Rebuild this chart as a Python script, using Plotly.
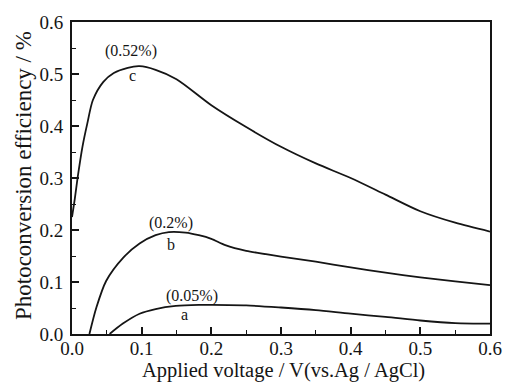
import plotly.graph_objects as go

# Curve c
c_x = [0.0, 0.004, 0.008, 0.015, 0.022, 0.03, 0.045, 0.06, 0.08, 0.097, 0.12, 0.15, 0.2, 0.25, 0.3, 0.35, 0.4, 0.45, 0.5, 0.55, 0.6]
c_y = [0.225, 0.26, 0.30, 0.36, 0.405, 0.45, 0.485, 0.502, 0.512, 0.515, 0.508, 0.49, 0.44, 0.398, 0.36, 0.328, 0.300, 0.268, 0.236, 0.214, 0.197]
# Curve b
b_x = [0.025, 0.035, 0.049, 0.073, 0.097, 0.12, 0.139, 0.163, 0.182, 0.2, 0.22, 0.25, 0.3, 0.35, 0.4, 0.45, 0.5, 0.55, 0.6]
b_y = [0.0, 0.051, 0.102, 0.146, 0.174, 0.19, 0.196, 0.195, 0.19, 0.183, 0.171, 0.160, 0.149, 0.139, 0.128, 0.118, 0.109, 0.101, 0.094]
# Curve a
a_x = [0.054, 0.073, 0.097, 0.12, 0.149, 0.182, 0.2, 0.25, 0.3, 0.35, 0.4, 0.45, 0.5, 0.55, 0.6]
a_y = [0.0, 0.02, 0.039, 0.048, 0.054, 0.056, 0.056, 0.055, 0.051, 0.046, 0.039, 0.033, 0.026, 0.021, 0.02]

tick_vals = [0.0, 0.1, 0.2, 0.3, 0.4, 0.5, 0.6]
tick_text = ["0.0", "0.1", "0.2", "0.3", "0.4", "0.5", "0.6"]
minor_vals = [0.05, 0.15, 0.25, 0.35, 0.45, 0.55]

label_text = ["(0.52%)", "c", "(0.2%)", "b", "(0.05%)", "a"]
label_x = [0.084, 0.087, 0.142, 0.142, 0.172, 0.161]
label_y = [0.544, 0.497, 0.213, 0.173, 0.073, 0.038]

x_title = "Applied voltage / V(vs.Ag / AgCl)"
y_title = "Photoconversion efficiency / %"

FONT = "Liberation Serif, Times New Roman, serif"
INK = "#151515"

fig = go.Figure()
for xs, ys in [(c_x, c_y), (b_x, b_y), (a_x, a_y)]:
    fig.add_trace(go.Scatter(x=xs, y=ys, mode="lines",
                             line=dict(color=INK, width=1.8, shape="spline", smoothing=0.8),
                             showlegend=False, hoverinfo="skip"))

for t, x, y in zip(label_text, label_x, label_y):
    fig.add_annotation(x=x, y=y, xref="x", yref="y", text=t, showarrow=False,
                       font=dict(family=FONT, size=16, color=INK))

fig.add_annotation(x=0.505, y=-0.156, xref="paper", yref="paper", text=x_title,
                   showarrow=False, xanchor="center", yanchor="bottom", borderpad=0,
                   font=dict(family=FONT, size=20.5, color=INK))
fig.add_annotation(x=-0.116, y=0.508, xref="paper", yref="paper", text=y_title,
                   showarrow=False, xanchor="center", yanchor="middle", textangle=-90,
                   font=dict(family=FONT, size=23, color=INK))

axis_common = dict(showgrid=False, zeroline=False, showline=True, linecolor=INK,
                   linewidth=1.8, mirror=True, ticks="inside", ticklen=7, tickwidth=1.8,
                   tickcolor=INK, tickfont=dict(family=FONT, size=19, color=INK),
                   tickvals=tick_vals, ticktext=tick_text, range=[0, 0.6],
                   minor=dict(ticks="inside", ticklen=4, tickwidth=1.4, tickcolor=INK,
                              tickvals=minor_vals))

fig.update_xaxes(ticklabelstandoff=-4, **axis_common)
fig.update_yaxes(ticklabelstandoff=3, **axis_common)

fig.update_layout(width=514, height=384, margin=dict(l=72, r=20, t=15, b=50),
                  paper_bgcolor="white", plot_bgcolor="white")

fig.write_html("out.html", config={"displayModeBar": False},
               post_script="document.body.style.margin='0';document.body.style.overflow='hidden';")
